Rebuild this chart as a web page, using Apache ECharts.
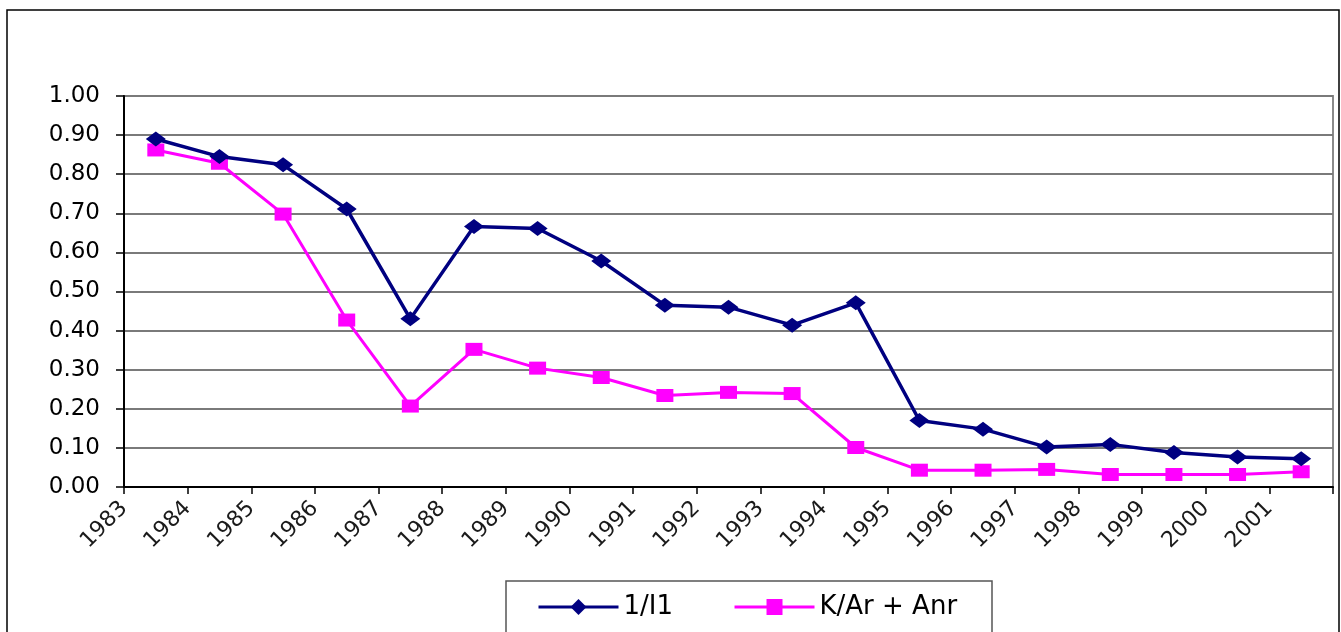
<!DOCTYPE html>
<html>
<head>
<meta charset="utf-8">
<title>1/I1 and K/Ar + Anr, 1983-2001</title>
<script src="https://cdn.jsdelivr.net/npm/echarts@6/dist/echarts.min.js"></script>
<style>
  html, body { margin: 0; padding: 0; background: #ffffff; }
  #chart { width: 1341px; height: 632px; }
</style>
</head>
<body>
<div id="chart"></div>
<script>
// Years along the horizontal axis
const years = ['1983', '1984', '1985', '1986', '1987', '1988', '1989', '1990', '1991', '1992',
               '1993', '1994', '1995', '1996', '1997', '1998', '1999', '2000', '2001'];

// Series values
const seriesInvI1 = [0.89, 0.845, 0.824, 0.711, 0.430, 0.666, 0.661, 0.578, 0.465, 0.460,
                     0.414, 0.471, 0.170, 0.148, 0.102, 0.109, 0.088, 0.077, 0.072];
const seriesKArAnr = [0.862, 0.828, 0.698, 0.427, 0.207, 0.352, 0.304, 0.280, 0.234, 0.242,
                      0.239, 0.101, 0.043, 0.043, 0.045, 0.032, 0.032, 0.032, 0.039];

const seriesNames = ['1/I1', 'K/Ar + Anr'];

// Tick labels sit on the category boundaries: one per year plus an unlabeled closing tick
const boundaryLabels = years.concat(['']);

const FONT = 'DejaVu Sans';

const chart = echarts.init(document.getElementById('chart'), null, { renderer: 'canvas' });

chart.setOption({
  animation: false,
  backgroundColor: '#ffffff',
  grid: {
    left: 124, right: 8, top: 96, bottom: 145,
    show: true,
    borderColor: '#8a8a8a',
    borderWidth: 2,
    backgroundColor: 'transparent'
  },
  graphic: [
    {
      type: 'rect',
      shape: { x: 7, y: 10, width: 1332, height: 660 },
      style: { fill: null, stroke: '#000000', lineWidth: 1.5 },
      silent: true,
      z: -1
    },
    {
      type: 'rect',
      shape: { x: 506, y: 581, width: 486, height: 80 },
      style: { fill: '#ffffff', stroke: '#555555', lineWidth: 1.5 },
      silent: true,
      z: 0
    }
  ],
  legend: {
    data: [
      { name: seriesNames[0], lineStyle: { width: 3 } },
      { name: seriesNames[1], lineStyle: { width: 3 } }
    ],
    left: 537,
    top: 594,
    padding: 0,
    itemWidth: 80,
    itemHeight: 20,
    itemGap: 60,
    z: 5,
    textStyle: { fontFamily: FONT, fontSize: 26, color: '#000000' }
  },
  xAxis: [
    {
      // carries the data: one slot per year, points at slot centres
      type: 'category',
      data: years,
      boundaryGap: true,
      position: 'bottom',
      axisLine: { show: false },
      axisTick: { show: false },
      axisLabel: { show: false },
      splitLine: { show: false }
    },
    {
      // draws the ticks and year labels on the slot boundaries
      type: 'category',
      data: boundaryLabels,
      boundaryGap: false,
      position: 'bottom',
      axisLine: { show: true, lineStyle: { color: '#000000', width: 2 } },
      axisTick: { show: true, length: 7, interval: 0, lineStyle: { color: '#000000', width: 1.5 } },
      axisLabel: {
        interval: 0,
        rotate: 45,
        margin: 18,
        fontFamily: FONT,
        fontSize: 22,
        color: '#1a1a1a'
      },
      splitLine: { show: false }
    }
  ],
  yAxis: {
    type: 'value',
    min: 0,
    max: 1,
    interval: 0.1,
    axisLine: { show: true, lineStyle: { color: '#000000', width: 2 } },
    axisTick: { show: true, length: 8, lineStyle: { color: '#000000', width: 1.5 } },
    axisLabel: {
      margin: 24,
      fontFamily: FONT,
      fontSize: 23,
      color: '#000000',
      formatter: v => v.toFixed(2)
    },
    splitLine: { show: true, lineStyle: { color: '#7a7a7a', width: 2 } }
  },
  series: [
    {
      name: seriesNames[0],
      type: 'line',
      xAxisIndex: 0,
      data: seriesInvI1,
      symbol: 'diamond',
      symbolSize: [20, 15],
      lineStyle: { color: '#000080', width: 3.5 },
      itemStyle: { color: '#000080' },
      z: 3
    },
    {
      name: seriesNames[1],
      type: 'line',
      xAxisIndex: 0,
      data: seriesKArAnr,
      symbol: 'rect',
      symbolSize: [17, 13],
      lineStyle: { color: '#ff00ff', width: 3 },
      itemStyle: { color: '#ff00ff' },
      z: 2
    }
  ]
});
</script>
</body>
</html>
